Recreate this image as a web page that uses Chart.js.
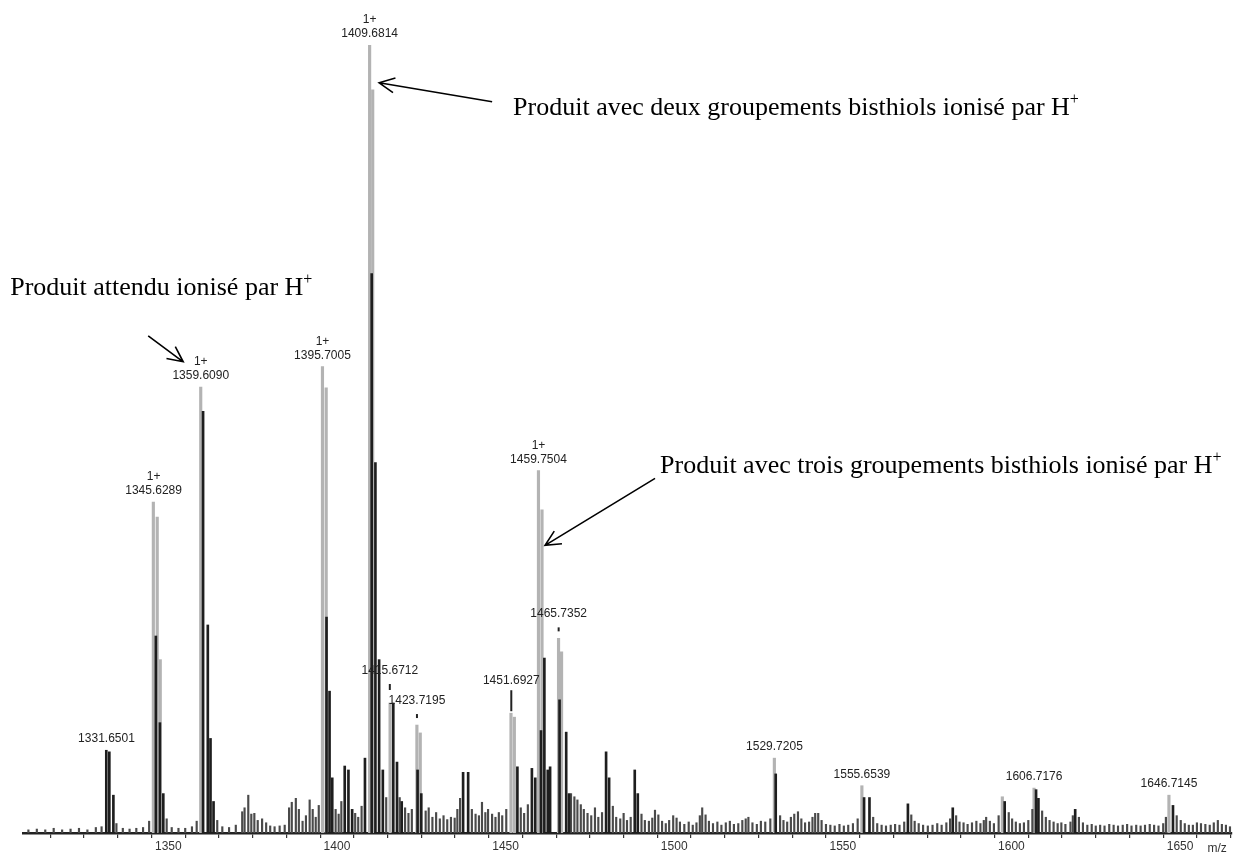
<!DOCTYPE html>
<html>
<head>
<meta charset="utf-8">
<script src="https://cdn.jsdelivr.net/npm/chart.js@4.4.0/dist/chart.umd.min.js"></script>
<style>
  html, body { margin: 0; padding: 0; background: #fff; }
</style>
</head>
<body>
<canvas id="spectre" width="1237" height="856"></canvas>
<script>
// m/z axis
const mzMin = 1306.9;
const mzMax = 1665.4;
const tickValues = [1310, 1320, 1330, 1340, 1350, 1360, 1370, 1380, 1390, 1400, 1410, 1420, 1430, 1440,
  1450, 1460, 1470, 1480, 1490, 1500, 1510, 1520, 1530, 1540, 1550, 1560, 1570, 1580, 1590, 1600,
  1610, 1620, 1630, 1640, 1650, 1660];
const labelEvery = 50;

// light grey sticks (relative intensity, %)
const lightMz  = [1345.55, 1346.7, 1347.6, 1359.6, 1395.7, 1396.8, 1409.68, 1410.6, 1415.75, 1423.7, 1424.7,
  1451.6, 1452.6, 1459.75, 1460.8, 1465.7, 1466.6, 1529.7, 1555.65, 1606.7, 1646.7, 1597.3];
const lightInt = [42.0, 40.1, 22.0, 56.6, 59.2, 56.5, 100, 94.3, 16.5, 13.7, 12.7,
  15.2, 14.7, 46.0, 41.0, 24.7, 23.0, 9.5, 6.0, 5.7, 4.8, 4.6];

// dark sticks
const darkMz  = [1331.6, 1332.5, 1333.7, 1346.3, 1347.5, 1348.5, 1360.3, 1361.7, 1362.5, 1363.4,
  1396.9, 1397.8, 1398.6, 1402.3, 1403.4, 1404.5, 1408.3, 1410.3, 1411.4, 1412.5, 1413.6,
  1416.7, 1417.8, 1419.2, 1423.9, 1425.0, 1437.4, 1438.9, 1453.5, 1457.8, 1458.8,
  1460.5, 1461.5, 1462.5, 1463.2, 1466.0, 1467.97, 1468.8, 1479.8, 1480.7, 1488.3, 1489.2,
  1530.1, 1556.3, 1557.9, 1569.3, 1582.6, 1598.0, 1607.3, 1608.0, 1618.9, 1647.9];
const darkInt = [10.5, 10.3, 4.8, 25.0, 14.0, 5.0, 53.5, 26.4, 12.0, 4.0,
  27.4, 18.0, 7.0, 8.5, 8.0, 3.0, 9.5, 71.0, 47.0, 22.0, 8.0,
  16.5, 9.0, 4.0, 8.0, 5.0, 7.7, 7.7, 8.4, 8.2, 7.0,
  13.0, 22.2, 8.0, 8.4, 16.9, 12.8, 5.0, 10.3, 7.0, 8.0, 5.0,
  7.5, 4.5, 4.5, 3.7, 3.2, 4.0, 5.5, 4.4, 3.0, 3.5];

// baseline "grass"
const grassMz = [1308.5, 1311, 1313.5, 1316, 1318.5, 1321, 1323.5, 1326, 1328.5, 1330.2, 1334.6, 1336.5,
  1338.5, 1340.5, 1342.5, 1344.3, 1349.5, 1351, 1353, 1355, 1357, 1358.4, 1364.5, 1366, 1368, 1370,
  1371.9, 1372.6, 1373.7, 1374.6, 1375.5, 1376.5, 1377.8, 1379, 1380.2, 1381.5, 1383, 1384.5, 1385.8,
  1386.6, 1387.8, 1388.7, 1389.8, 1390.8, 1391.9, 1392.8, 1393.7, 1394.6, 1399.6, 1400.5, 1401.3,
  1405.4, 1406.3, 1407.3, 1414.6, 1418.6, 1420.2, 1421.2, 1422.2, 1426.3, 1427.2, 1428.3, 1429.4,
  1430.5, 1431.6, 1432.7, 1433.8, 1434.9, 1435.7, 1436.5, 1440.0, 1441.1, 1442.1, 1443.0, 1444.0,
  1444.8, 1446.0, 1447.0, 1448.0, 1449.0, 1450.2, 1454.5, 1455.5, 1456.6, 1469.4, 1470.4, 1471.3,
  1472.3, 1473.2, 1474.3, 1475.4, 1476.5, 1477.5, 1478.6, 1481.8, 1482.8, 1484.0, 1485.0, 1486.0,
  1487.1, 1490.3, 1491.3, 1492.5, 1493.5, 1494.3, 1495.3, 1496.4, 1497.5, 1498.5, 1499.7, 1500.7,
  1501.7, 1503, 1504.3, 1505.5, 1506.6, 1507.6, 1508.3, 1509.3, 1510.3, 1511.5, 1512.8, 1514,
  1515.3, 1516.5, 1517.7, 1519, 1520.2, 1521.2, 1522, 1523.2, 1524.5, 1525.7, 1527, 1528.5, 1531.4,
  1532.4, 1533.5, 1534.6, 1535.6, 1536.7, 1537.7, 1538.8, 1540, 1541, 1541.8, 1542.7, 1543.7, 1545,
  1546.3, 1547.6, 1549, 1550.3, 1551.6, 1553, 1554.4, 1559, 1560.2, 1561.5, 1562.8, 1564.2, 1565.5,
  1566.8, 1568.2, 1570.3, 1571.3, 1572.5, 1573.8, 1575.2, 1576.6, 1578, 1579.3, 1580.7, 1581.8,
  1583.6, 1584.6, 1585.8, 1587, 1588.3, 1589.6, 1590.8, 1591.8, 1592.5, 1593.6, 1594.8, 1596.2,
  1599.2, 1600.2, 1601.3, 1602.5, 1603.7, 1605, 1606.2, 1609.1, 1610.2, 1611.3, 1612.5, 1613.7,
  1614.8, 1616, 1617.5, 1618.2, 1620, 1621.2, 1622.5, 1623.8, 1625, 1626.3, 1627.6, 1629, 1630.3,
  1631.6, 1633, 1634.3, 1635.6, 1637, 1638.3, 1639.6, 1641, 1642.3, 1643.6, 1645, 1645.8, 1649,
  1650.2, 1651.4, 1652.6, 1653.8, 1655, 1656.2, 1657.5, 1658.8, 1660, 1661.2, 1662.4, 1663.6, 1664.8];
const grassInt = [0.4, 0.5, 0.4, 0.6, 0.4, 0.5, 0.6, 0.4, 0.7, 0.8, 1.2, 0.6,
  0.5, 0.6, 0.7, 1.5, 1.8, 0.7, 0.6, 0.6, 0.8, 1.5, 1.6, 0.8, 0.7, 1.0,
  2.7, 3.2, 4.8, 2.4, 2.5, 1.6, 1.8, 1.3, 0.9, 0.8, 0.9, 1.0, 3.2,
  3.9, 4.4, 3.0, 1.5, 2.2, 4.2, 3.0, 2.0, 3.5, 3.0, 2.4, 4.0,
  2.5, 2.0, 3.4, 4.5, 4.5, 3.2, 2.5, 3.0, 2.8, 3.2, 2.0, 2.6,
  1.8, 2.2, 1.7, 2.0, 1.9, 3.0, 4.4, 3.0, 2.4, 2.2, 3.9, 2.6,
  3.0, 2.4, 2.0, 2.6, 2.2, 3.0, 3.2, 2.5, 3.6, 5.0, 4.6, 4.2,
  3.6, 3.0, 2.5, 2.2, 3.2, 2.0, 2.6, 3.4, 2.0, 1.8, 2.5, 1.6,
  2.0, 2.4, 1.6, 1.5, 1.9, 2.9, 2.3, 1.5, 1.2, 1.6, 2.2, 1.9,
  1.4, 1.1, 1.4, 1.0, 1.3, 2.2, 3.2, 2.3, 1.5, 1.2, 1.4, 1.0,
  1.3, 1.5, 1.1, 1.2, 1.6, 1.8, 2.0, 1.3, 1.1, 1.5, 1.4, 1.8, 2.2,
  1.6, 1.4, 2.0, 2.4, 2.7, 1.8, 1.3, 1.4, 2.0, 2.5, 2.5, 1.6, 1.1,
  1.0, 0.9, 1.1, 0.9, 1.0, 1.2, 1.8, 2.0, 1.2, 1.0, 0.9, 1.0, 1.1,
  1.0, 1.4, 2.3, 1.5, 1.2, 1.0, 0.9, 1.0, 1.2, 1.0, 1.3, 1.8,
  2.2, 1.4, 1.3, 1.1, 1.3, 1.5, 1.2, 1.6, 2.0, 1.5, 1.2, 2.2,
  2.6, 1.8, 1.4, 1.2, 1.3, 1.6, 3.0, 2.8, 2.0, 1.6, 1.4, 1.2,
  1.3, 1.1, 1.4, 2.2, 2.0, 1.3, 1.0, 1.1, 0.9, 1.0, 0.9, 1.1, 1.0,
  0.9, 1.0, 1.1, 0.9, 1.0, 0.9, 1.0, 1.1, 1.0, 0.9, 1.2, 2.0, 2.2,
  1.6, 1.2, 1.0, 1.0, 1.3, 1.2, 1.1, 1.0, 1.3, 1.6, 1.1, 1.0, 0.8];

// labelled peaks
const peakLabelMz   = [1331.6501, 1345.6289, 1359.6090, 1395.7005, 1409.6814, 1415.6712, 1423.7195,
  1451.6927, 1459.7504, 1465.7352, 1529.7205, 1555.6539, 1606.7176, 1646.7145];
const peakLabelText = ['1331.6501', '1345.6289', '1359.6090', '1395.7005', '1409.6814', '1415.6712', '1423.7195',
  '1451.6927', '1459.7504', '1465.7352', '1529.7205', '1555.6539', '1606.7176', '1646.7145'];
const peakCharge    = ['', '1+', '1+', '1+', '1+', '', '', '', '1+', '', '', '', '', ''];

// French annotations with arrows (tip given in m/z and intensity)
const noteText  = ['Produit avec deux groupements bisthiols ionisé par H', 'Produit attendu ionisé par H',
  'Produit avec trois groupements bisthiols ionisé par H'];
const noteTipMz  = [1412.5, 1354.4, 1461.7];
const noteTipInt = [95.2, 59.8, 36.5];

const toPoints = (xs, ys) => xs.map((x, i) => ({ x: x, y: ys[i] }));
const allSticks = toPoints(lightMz, lightInt).concat(toPoints(darkMz, darkInt));

function peakTop(mz) {
  let top = 0;
  allSticks.forEach(p => { if (Math.abs(p.x - mz) < 0.6 && p.y > top) top = p.y; });
  return top;
}

// how each label sits above its peak: gap to text baseline, marker from/to (px above top)
const labelLayout = {
  '1415.6712': { gap: 29, mark: [13, 19] },
  '1423.7195': { gap: 21, mark: [7, 11] },
  '1451.6927': { gap: 29, mark: [2, 23] },
  '1465.7352': { gap: 21, mark: [7, 11] }
};
// arrow tail and text start, relative to tip (px)
const noteLayout = [
  { tail: [113, 19], text: [134, 32] },
  { tail: [-35, -26], text: [-173, -67] },
  { tail: [110, -67], text: [115, -72] }
];

const annotations = {
  id: 'annotations',
  afterDatasetsDraw(chart) {
    const ctx = chart.ctx;
    const xs = chart.scales.x, ys = chart.scales.y;
    ctx.save();

    // peak labels
    ctx.fillStyle = '#222';
    ctx.strokeStyle = '#222';
    ctx.textAlign = 'center';
    ctx.textBaseline = 'alphabetic';
    ctx.font = '12px "Liberation Sans", Arial, sans-serif';
    peakLabelMz.forEach((mz, i) => {
      const x = xs.getPixelForValue(mz);
      const top = ys.getPixelForValue(peakTop(mz));
      const lay = labelLayout[peakLabelText[i]];
      let base = top - 8;
      if (lay) {
        base = top - lay.gap;
        ctx.lineWidth = 2;
        ctx.beginPath();
        ctx.moveTo(x, top - lay.mark[0]);
        ctx.lineTo(x, top - lay.mark[1]);
        ctx.stroke();
      }
      ctx.fillText(peakLabelText[i], x, base);
      if (peakCharge[i]) ctx.fillText(peakCharge[i], x, base - 14);
    });

    // arrows + French notes
    ctx.strokeStyle = '#000';
    ctx.fillStyle = '#000';
    ctx.lineWidth = 1.6;
    ctx.textAlign = 'left';
    noteText.forEach((txt, i) => {
      const tx = xs.getPixelForValue(noteTipMz[i]);
      const ty = ys.getPixelForValue(noteTipInt[i]);
      const lay = noteLayout[i];
      const sx = tx + lay.tail[0], sy = ty + lay.tail[1];
      ctx.beginPath();
      ctx.moveTo(sx, sy);
      ctx.lineTo(tx, ty);
      const ang = Math.atan2(sy - ty, sx - tx);
      const len = 17, spread = 0.45;
      ctx.moveTo(tx + len * Math.cos(ang + spread), ty + len * Math.sin(ang + spread));
      ctx.lineTo(tx, ty);
      ctx.lineTo(tx + len * Math.cos(ang - spread), ty + len * Math.sin(ang - spread));
      ctx.stroke();

      const px = tx + lay.text[0], py = ty + lay.text[1];
      ctx.font = '26px "Liberation Serif", "Times New Roman", serif';
      ctx.fillText(txt, px, py);
      const w = ctx.measureText(txt).width;
      ctx.font = '16px "Liberation Serif", "Times New Roman", serif';
      ctx.fillText('+', px + w, py - 11);
    });

    // axis unit
    ctx.fillStyle = '#333';
    ctx.font = '12px "Liberation Sans", Arial, sans-serif';
    ctx.textAlign = 'center';
    ctx.fillText('m/z', xs.getPixelForValue(1661), xs.bottom - 4);
    ctx.restore();
  }
};

new Chart(document.getElementById('spectre').getContext('2d'), {
  type: 'bar',
  data: {
    datasets: [
      { label: 'dark', data: toPoints(darkMz, darkInt), backgroundColor: '#1e1e1e', barThickness: 2 },
      { label: 'grass', data: toPoints(grassMz, grassInt), backgroundColor: '#4a4a4a', barThickness: 1.5 },
      { label: 'light', data: toPoints(lightMz, lightInt), backgroundColor: '#b3b3b3', barThickness: 2.5 }
    ]
  },
  options: {
    responsive: false,
    animation: false,
    events: [],
    grouped: false,
    layout: { padding: { left: 23, right: 5, top: 45, bottom: 0 } },
    plugins: { legend: { display: false }, tooltip: { enabled: false } },
    scales: {
      x: {
        type: 'linear',
        min: mzMin,
        max: mzMax,
        offset: false,
        afterBuildTicks: scale => { scale.ticks = tickValues.map(v => ({ value: v })); },
        afterFit: scale => { scale.height = 23; },
        border: { display: true, color: '#222', width: 2.5 },
        grid: { drawOnChartArea: false, drawTicks: true, tickLength: 5, color: '#333', lineWidth: 1.2 },
        ticks: {
          autoSkip: false,
          maxRotation: 0,
          padding: 1,
          color: '#333',
          font: { family: '"Liberation Sans", Arial, sans-serif', size: 12 },
          callback: v => (v % labelEvery === 0 ? String(v) : '')
        }
      },
      y: { display: false, min: 0, max: 100 }
    }
  },
  plugins: [annotations]
});
</script>
</body>
</html>
